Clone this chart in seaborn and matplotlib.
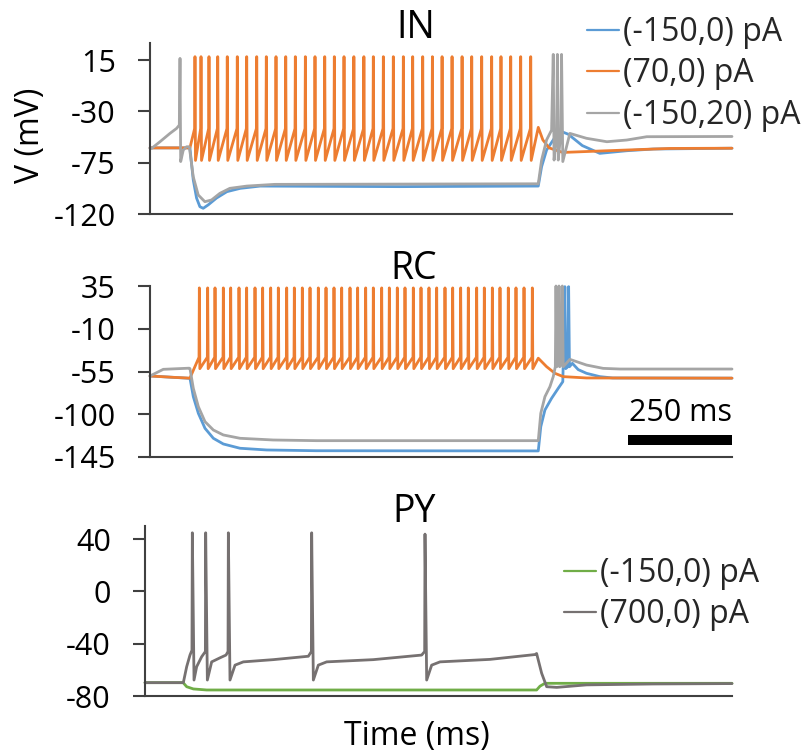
import matplotlib
matplotlib.use("Agg")
import matplotlib.pyplot as plt
import matplotlib.transforms as mtransforms
from matplotlib.patches import Rectangle
from matplotlib.lines import Line2D
import pandas as pd
import seaborn as sns

sns.set_theme(style="white")
plt.rcParams['font.family'] = ['Open Sans', 'DejaVu Sans']

# ---------------- data (time in ms, V in mV) ----------------
T_END = 1400
SCALE_MS = 250

IN_TICKS = [-120, -75, -30, 15]
RC_TICKS = [-145, -100, -55, -10, 35]
PY_TICKS = [-80, -40, 0, 40]

IN_LABELS = ["(-150,0) pA", "(70,0) pA", "(-150,20) pA"]
PY_LABELS = ["(-150,0) pA", "(700,0) pA"]

BLUE, ORANGE, GRAY, GREEN, DGRAY = "#5B9BD5", "#ED7D31", "#A5A5A5", "#70AD47", "#767171"

# ---- IN ----
in_blue_t = [0, 96, 104, 112, 120, 128, 140, 160, 185, 217, 265, 600, 934, 942, 954, 970, 985,
             1006, 1040, 1082, 1147, 1211, 1400]
in_blue_v = [-62, -62, -90, -106, -113.6, -115, -112, -106, -100.4, -97.5, -95.5, -96, -95.5,
             -78.5, -63.9, -55, -47, -50, -60, -66.8, -64.5, -63, -62.3]

in_orange_pre_t = [0, 96]
in_orange_pre_v = [-62, -62]
in_orange_spikes = [108.2, 122.7, 141.9, 162.9, 185.9, 210.0, 232.6, 256.7, 279.8, 303.1,
                    326.5, 349.6, 373.7, 396.9, 420.3, 443.4, 466.7, 490.4, 514.5, 537.2,
                    561.3, 585.3, 609.4, 631.9, 656.0, 679.3, 702.6, 726.6, 750.7, 773.9,
                    797.9, 821.9, 844.3, 867.7, 891.7, 915.8]
in_orange_peak, in_orange_trough, in_orange_kink = 18, -73, -45
in_orange_post_t = [934, 945, 960, 993, 1100, 1250, 1400]
in_orange_post_v = [-44, -55, -62, -66, -64.5, -62.5, -62.3]

in_gray_t = [0, 4, 24, 48, 64, 70.5, 72.2, 73.8, 80, 88, 94.6, 104, 116, 132, 148, 168, 192,
             233, 300, 934, 942, 954, 966, 970, 972, 978, 980, 982, 988, 990, 993, 1010,
             1050, 1099, 1147, 1195, 1400]
in_gray_v = [-62.4, -62.4, -56.6, -49.3, -44.9, -42, 16.5, -74, -63.9, -61, -61, -87.3, -103.3,
             -109.2, -107.7, -101.9, -97.5, -95.5, -94, -93.5, -72.7, -55, -46.4, 20, -72.7,
             -50, 20, -72.7, -50, 20, -74, -49.3, -53.6, -56.6, -55.1, -52.2, -52]

# ---- RC ----
rc_blue_t = [0, 50, 96.2, 104.2, 116.3, 132.3, 152.4, 176.4, 216.5, 280.6, 400, 934, 940, 950,
             966, 982, 993, 998, 1000, 1005, 1007, 1009, 1016, 1030, 1050, 1082, 1113, 1400]
rc_blue_v = [-59.7, -61, -62.2, -81.5, -99, -114.8, -125.3, -131.3, -135.8, -137.6, -138.4,
             -138.6, -113.1, -95.5, -83.2, -72.7, -65.7, 34.3, -52, -50, 34.3, -50, -46.4,
             -53, -56.9, -60.4, -61.8, -62]

rc_orange_pre_t = [0, 50, 96]
rc_orange_pre_v = [-59.7, -61, -62]
rc_orange_spikes = [118.7, 138.7, 156.4, 176.4, 194.1, 214.1, 232.5, 252.6, 271.0, 290.3,
                    308.7, 328.8, 347.2, 366.4, 384.9, 404.9, 423.4, 442.6, 461.1, 481.1,
                    499.5, 518.8, 537.2, 557.3, 575.7, 594.9, 613.4, 633.4, 651.9, 671.1,
                    689.6, 709.6, 728.1, 747.3, 765.7, 785.8, 804.2, 823.5, 841.9, 861.9,
                    880.4, 899.7, 919.7]
rc_orange_peak, rc_orange_trough, rc_orange_kink = 33, -52, -40
rc_orange_post_t = [934, 954, 974, 994, 1050, 1400]
rc_orange_post_v = [-41, -49.9, -56.9, -60.4, -61.8, -62]

rc_gray_t = [0, 32, 94.6, 96.2, 104.2, 116.3, 132.3, 152.4, 176.4, 216.5, 296.6, 400, 934, 940,
             950, 962, 970, 975, 976.6, 978.5, 982.5, 983.8, 985.5, 990.5, 991.8, 994, 1010,
             1050, 1090, 1131, 1400]
rc_gray_v = [-59.7, -52.7, -51.5, -52, -72.7, -92, -107.8, -116.6, -121.8, -125.3, -127.1,
             -127.8, -127.8, -99, -81.5, -71, -60.4, -50, 35, -50, -47, 35, -50, -47, 35, -50,
             -42.2, -48.2, -51.7, -52.4, -52.4]

# ---- PY ----
py_green_t = [0, 91, 99.4, 115.3, 147, 934, 942, 950, 954, 1400]
py_green_v = [-69.8, -69.8, -72.9, -74.6, -75.4, -75.4, -72.5, -71, -70.3, -70.3]

py_gray_t = [0, 91.4, 99.4, 107.3, 112, 112.9, 116.9, 123.2, 135.1, 144, 144.7, 148.7, 159,
             178.9, 193.2, 198, 198.8, 202.7, 214.7, 234.5, 306, 389.6, 396.8, 397.5, 401.5,
             413.4, 433.3, 544.5, 659.8, 667, 667.8, 671.8, 683.7, 703.6, 822.8, 930.2, 934,
             946, 958, 982, 1053, 1212, 1400]
py_gray_v = [-69.8, -69.8, -57.6, -48.7, -45, 44.8, -67.8, -57.6, -50, -46, 44.8, -67.8, -53.9,
             -50.8, -48.7, -46, 44.8, -67.8, -56.4, -53.9, -52.2, -49.6, -46, 44.8, -67.8,
             -56.4, -53.9, -52.2, -48.7, -46, 43.8, -67.8, -56.4, -53.9, -52, -48.3, -47.5,
             -62.6, -72.9, -73.4, -71.5, -70.8, -70.5]


def sawtooth(pre_t, pre_v, spikes, peak, trough, kink, post_t, post_v, up=0.8, down=1.2):
    t, v = list(pre_t), list(pre_v)
    for s in spikes:
        t += [s - up, s, s + down]
        v += [kink, peak, trough]
    return t + list(post_t), v + list(post_v)


in_orange_t, in_orange_v = sawtooth(in_orange_pre_t, in_orange_pre_v, in_orange_spikes,
                                    in_orange_peak, in_orange_trough, in_orange_kink,
                                    in_orange_post_t, in_orange_post_v)
rc_orange_t, rc_orange_v = sawtooth(rc_orange_pre_t, rc_orange_pre_v, rc_orange_spikes,
                                    rc_orange_peak, rc_orange_trough, rc_orange_kink,
                                    rc_orange_post_t, rc_orange_post_v)


def frame(series):
    parts = []
    for name, (t, v) in series.items():
        parts.append(pd.DataFrame({"t": t, "v": v, "s": name}))
    return pd.concat(parts, ignore_index=True)


df_in = frame({IN_LABELS[0]: (in_blue_t, in_blue_v), IN_LABELS[1]: (in_orange_t, in_orange_v),
               IN_LABELS[2]: (in_gray_t, in_gray_v)})
df_rc = frame({IN_LABELS[0]: (rc_blue_t, rc_blue_v), IN_LABELS[1]: (rc_orange_t, rc_orange_v),
               IN_LABELS[2]: (rc_gray_t, rc_gray_v)})
df_py = frame({PY_LABELS[0]: (py_green_t, py_green_v), PY_LABELS[1]: (py_gray_t, py_gray_v)})

# ---------------- figure ----------------
W, H = 810, 753
fig = plt.figure(figsize=(W / 100, H / 100), dpi=100)


def axes_px(x0, y0, x1, y1):
    return fig.add_axes([x0 / W, 1 - y1 / H, (x1 - x0) / W, (y1 - y0) / H])


ax_in = axes_px(150, 43, 732, 214)
ax_rc = axes_px(150, 286, 732, 457)
ax_py = axes_px(145, 526, 732, 696)

TICK_FS = 22
LW = 2.0
SPINE_C = "#404040"

panels = [
    (ax_in, df_in, IN_LABELS, [BLUE, ORANGE, GRAY], (-120, 30), IN_TICKS),
    (ax_rc, df_rc, IN_LABELS, [BLUE, ORANGE, GRAY], (-145, 35), RC_TICKS),
    (ax_py, df_py, PY_LABELS, [GREEN, DGRAY], (-80, 50), PY_TICKS),
]
for ax, df, labels, cols, ylim, ticks in panels:
    sns.lineplot(data=df, x="t", y="v", hue="s", hue_order=labels, palette=cols,
                 sort=False, estimator=None, legend=False, linewidth=LW, ax=ax)
    for ln in ax.lines:
        ln.set_clip_on(False)
    ax.set_xlim(0, T_END)
    ax.set_ylim(*ylim)
    ax.set_yticks(ticks)
    ax.set_yticklabels([str(v) for v in ticks])
    ax.set_xticks([])
    ax.set_xlabel("")
    ax.set_ylabel("")
    ax.set_facecolor("none")
    for side in ("top", "right"):
        ax.spines[side].set_visible(False)
    for side in ("left", "bottom"):
        ax.spines[side].set_color(SPINE_C)
        ax.spines[side].set_linewidth(1.5)
    ax.tick_params(axis="y", direction="out", length=8.6, width=1.5, color=SPINE_C,
                   pad=16, labelsize=TICK_FS, labelcolor="black", left=True)


def ftext(x, y, s, **kw):
    fig.text(x / W, 1 - y / H, s, **kw)


TITLE_FS = 27
ftext(416, 38, "IN", ha="center", va="baseline", fontsize=TITLE_FS, color="black")
ftext(414, 279, "RC", ha="center", va="baseline", fontsize=TITLE_FS, color="black")
ftext(414, 522, "PY", ha="center", va="baseline", fontsize=TITLE_FS, color="black")
ftext(30, 135, "V (mV)", ha="center", va="center", rotation=90, fontsize=23, color="black")
ftext(417, 745, "Time (ms)", ha="center", va="baseline", fontsize=23, color="black")

# scale bar
trans = mtransforms.blended_transform_factory(ax_rc.transData, ax_rc.transAxes)
ax_rc.add_patch(Rectangle((T_END - SCALE_MS, 0.07), SCALE_MS, 0.059, transform=trans,
                          color="black", clip_on=False, lw=0))
ax_rc.text(T_END - SCALE_MS / 2, 0.255, f"{SCALE_MS} ms", transform=trans, ha="center",
           va="center", fontsize=22, color="black")

# legends
LEG_FS = 23
h_in = [Line2D([], [], color=c, lw=1.6) for c in (BLUE, ORANGE, GRAY)]
fig.legend(h_in, IN_LABELS, loc="center left", bbox_to_anchor=(587 / W, 1 - 74 / H),
           frameon=False, fontsize=LEG_FS, handlelength=1.0, handletextpad=0.12,
           labelspacing=0.27, borderpad=0, borderaxespad=0)
h_py = [Line2D([], [], color=c, lw=1.6) for c in (GREEN, DGRAY)]
fig.legend(h_py, PY_LABELS, loc="center left", bbox_to_anchor=(564 / W, 1 - 594 / H),
           frameon=False, fontsize=LEG_FS, handlelength=1.0, handletextpad=0.12,
           labelspacing=0.27, borderpad=0, borderaxespad=0)

fig.savefig("out.png", dpi=100)
